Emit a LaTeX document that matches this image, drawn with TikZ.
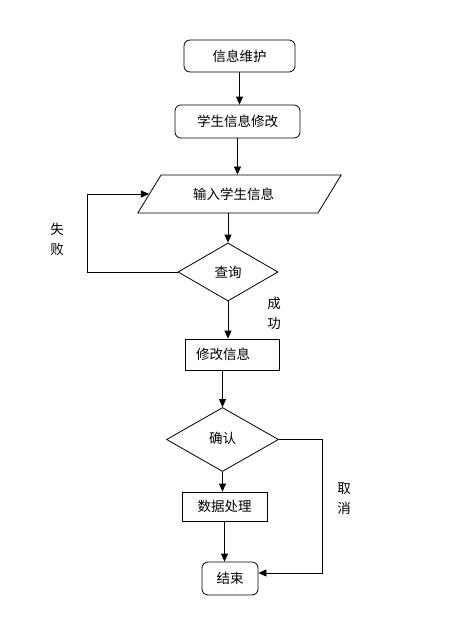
\documentclass[tikz,border=0pt]{standalone}
\usepackage{fontspec}
\newfontfamily\cjk{Noto Sans CJK SC}
\usetikzlibrary{positioning,shapes.geometric,arrows.meta}
\tikzset{
  >=latex, % default arrow head
  node/.style={draw=black,line width=0.8,font=\cjk\fontsize{13.5}{20}\selectfont,inner sep=0,align=center},
  node round/.style={node,rectangle,rounded corners=6},
  node box/.style={node,rectangle},
  node io/.style={node,trapezium,trapezium left angle=51,trapezium right angle=129,trapezium stretches=true},
  node cond/.style={node,diamond},
  label text/.style={font=\cjk\fontsize{13.5}{20}\selectfont,align=center,inner sep=0},
  connect arrow/.style={-{Triangle[length=8,width=7]},line width=0.8,black}
}

\begin{document}
\begin{tikzpicture}[x=1pt,y=-1pt]
    \useasboundingbox (0,0) rectangle (476,635);

    % ------- nodes -------
    \node[node round, minimum width=111, minimum height=32] (maint)  at (239.5,56)  {信息维护};
    \node[node round, minimum width=125, minimum height=33] (modify) at (237.5,121.5) {学生信息修改};
    \node[node io,    minimum width=205, minimum height=38] (input)  at (239.5,194)  {\hspace*{-12pt}输入学生信息};
    \node[node cond,  minimum width=100, minimum height=58] (query)  at (228,272)    {查询};
    \node[node box,   minimum width=94,  minimum height=31] (edit)   at (232,354.5)  {\hspace*{-18pt}修改信息};
    \node[node cond,  minimum width=112, minimum height=64] (confirm) at (222.5,439.5) {\raisebox{3pt}{确认}};
    \node[node box,   minimum width=85,  minimum height=29] (data)   at (224.5,506.5) {数据处理};
    \node[node round, minimum width=56,  minimum height=33] (finish) at (230,578.5)  {结束};

    % ------- labels -------
    \node[label text] (fail)   at (57,239)  {失\\败};
    \node[label text] (ok)     at (274,313) {成\\功};
    \node[label text] (cancel) at (344,499) {取\\消};

    % ------- connections -------
    \draw[connect arrow] (maint) -- (maint |- modify.north);
    \draw[connect arrow] (modify) -- (modify |- input.north);
    \draw[connect arrow] (query |- input.south) -- (query.north);
    \draw[connect arrow] (query.west) -- ++(-90,0) |- (input.west);
    \draw[connect arrow] (query.south) -- (query |- edit.north);
    \draw[connect arrow] (confirm |- edit.south) -- (confirm.north);
    \draw[connect arrow] (confirm.south) -- (confirm |- data.north);
    \draw[connect arrow] (data.south) -- (data |- finish.north);
    \draw[connect arrow] (confirm.east) -- ++(43,0) |- ([yshift=5.5]finish.east);
\end{tikzpicture}
\end{document}
